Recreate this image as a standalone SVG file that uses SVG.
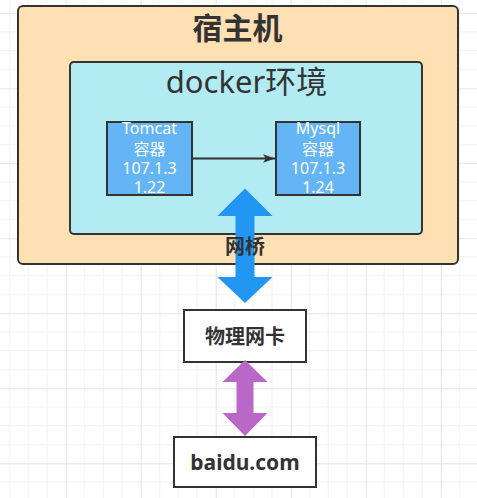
<svg xmlns="http://www.w3.org/2000/svg" width="477" height="498" viewBox="0 0 477 498">
<defs>
<pattern id="grid" patternUnits="userSpaceOnUse" x="65.7" y="13.3" width="75" height="75">
<path d="M0 18.75H75M0 37.5H75M0 56.25H75M18.75 0V75M37.5 0V75M56.25 0V75" fill="none" stroke="#f0f0f0" stroke-width="1"/>
<path d="M0 0.5H75M0.5 0V75" fill="none" stroke="#e4e4e4" stroke-width="1"/>
</pattern>
<marker id="ah" markerWidth="12" markerHeight="12" viewBox="0 0 17 12" refX="17" refY="6" markerUnits="userSpaceOnUse" orient="auto">
<path d="M0 0L17 6L0 12L4 6Z" fill="#333"/>
</marker>
</defs>
<style>
.bx{stroke:#333;stroke-width:2}
.t{font-family:"Noto Sans","Noto Sans CJK SC",sans-serif;text-anchor:middle}
.w{fill:#fff;font-size:16px}
.d{fill:#333}
.b{font-weight:bold}
</style>
<rect width="477" height="498" fill="#fff"/>
<rect width="477" height="498" fill="url(#grid)"/>
<g id="host">
<rect class="bx" x="18" y="6" width="440" height="258" rx="5" fill="#FFE0B2"/>
<text class="t d b" x="237.5" y="39" font-size="30">宿主机</text>
</g>
<g id="docker">
<rect class="bx" x="70" y="62" width="352" height="172" rx="4" fill="#B2EBF2"/>
<text class="t d" x="246.5" y="93" font-size="31">docker环境</text>
</g>
<g id="tomcat">
<rect class="bx" x="107" y="122" width="85" height="73" fill="#64B5F6"/>
<text class="t w" x="149.5" y="134">Tomcat</text>
<text class="t w" x="149.5" y="155">容器</text>
<text class="t w" x="149.5" y="174">107.1.3</text>
<text class="t w" x="149.5" y="192.5">1.22</text>
</g>
<g id="mysql">
<rect class="bx" x="276" y="122" width="84" height="73" fill="#64B5F6"/>
<text class="t w" x="318" y="134">Mysql</text>
<text class="t w" x="318" y="155">容器</text>
<text class="t w" x="318" y="174">107.1.3</text>
<text class="t w" x="318" y="192.5">1.24</text>
</g>
<g id="nic">
<rect class="bx" x="184" y="310" width="122" height="52" fill="#fff"/>
<text class="t d b" x="245" y="344" font-size="20">物理网卡</text>
</g>
<g id="baidu">
<rect class="bx" x="174" y="437" width="142" height="50" fill="#fff"/>
<text class="t d b" x="245" y="470" font-size="21">baidu.com</text>
</g>
<g id="connectors">
<path d="M192 158.5H275" stroke="#333" stroke-width="2" fill="none" marker-end="url(#ah)"/>
<path d="M245 188.5L272.5 216H254.5V277H272.5L245 303L217.5 277H235.5V216H217.5Z" fill="#2196F3"/>
<text class="t d b" x="245" y="254" font-size="20">网桥</text>
<path d="M245 360L267.5 382H253.5V413H267.5L245 436L222.5 413H236.5V382H222.5Z" fill="#BA68C8"/>
</g>
</svg>
